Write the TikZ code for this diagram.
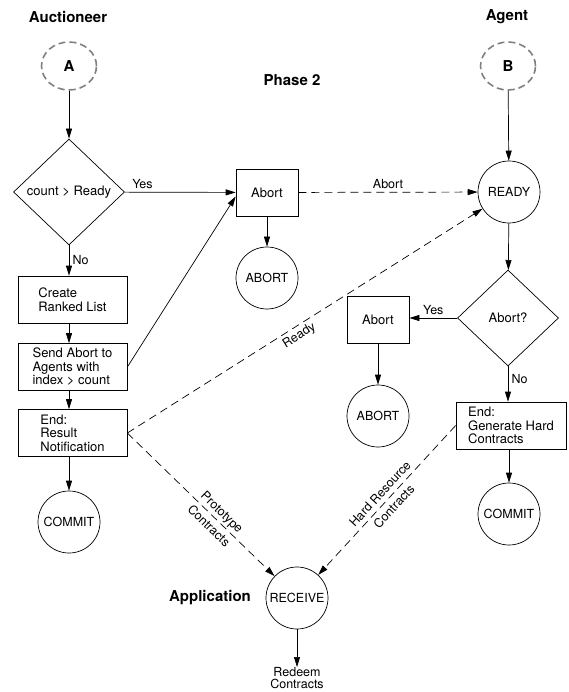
\documentclass[tikz,border=0pt]{standalone}
\usepackage{fontspec}
\setmainfont{TeX Gyre Heros}
\usetikzlibrary{shapes.geometric,arrows.meta}
\begin{document}
\begin{tikzpicture}[x=1pt,y=-1pt,
  font=\fontsize{13}{13.5}\selectfont,
  arr/.style={-{Triangle[length=10pt,width=6pt]}, line width=0.7pt},
  dsh/.style={arr, dash pattern=on 8pt off 5pt},
  box/.style={draw, line width=0.7pt, minimum width=109pt, minimum height=47pt, align=left, inner sep=2pt},
  state/.style={draw, circle, minimum size=62pt, inner sep=0pt, line width=0.7pt, font=\fontsize{12.5}{14}\selectfont},
  conn/.style={draw=gray, ellipse, minimum width=55pt, minimum height=48pt, inner sep=0pt, line width=1.6pt, dash pattern=on 7pt off 4pt, font=\bfseries\fontsize{15}{18}\selectfont},
  dec/.style={draw, diamond, inner sep=0pt, line width=0.7pt},
  title/.style={font=\bfseries\fontsize{15}{18}\selectfont},
  lbl/.style={font=\fontsize{12.5}{13.5}\selectfont},
  lbl2/.style={font=\fontsize{12.5}{19}\selectfont, sloped, align=center, inner sep=0pt}
]
\useasboundingbox (0,0) rectangle (569,692);
% titles
\node[title] (auc) at (68,17) {Auctioneer};
\node[title] (agt) at (507,17) {Agent};
\node[title] (ph) at (292,80) {Phase 2};
\node[title] (app) at (210,598) {Application};
% auctioneer column
\node[conn] (A) at (69,66) {A};
\node[dec, minimum width=111pt, minimum height=106pt] (d1) at (69,192) {count > Ready};
\node[box, minimum width=62pt] (ab1) at (267,192.5) {Abort};
\node[state] (AB1) at (267,278) {ABORT};
\node[box] (crl) at (72.5,299.5) {Create\\Ranked List};
\node[box] (sab) at (72.5,367) {Send Abort to\\Agents with\\index > count};
\node[box] (res) at (72.5,433) {End:\\Result\\Notification};
\node[state] (cm1) at (69,522) {COMMIT};
% agent column
\node[conn] (B) at (508,66) {B};
\node[state] (rdy) at (509,192) {READY};
\node[dec, minimum width=101pt, minimum height=96pt] (d2) at (508,318) {Abort?};
\node[box, minimum width=62pt] (ab2) at (378,320) {Abort};
\node[state] (AB2) at (378,416) {ABORT};
\node[box, minimum width=110pt] (gen) at (511,425.5) {End:\\Generate Hard\\Contracts};
\node[state] (cm2) at (509,514) {COMMIT};
% application
\node[state] (rcv) at (297,598) {RECEIVE};
\node[align=center, anchor=north, inner sep=0pt, font=\fontsize{12.5}{12}\selectfont] (rdm) at (297,667) {Redeem\\Contracts};
% connectors
\draw[arr] (A) -- (d1);
\draw[arr] (d1) -- node[lbl, above, pos=0.16] {Yes} (ab1);
\draw[arr] (d1.south) -- node[lbl, right] {No} (d1.south |- crl.north);
\draw[arr] (ab1) -- (AB1);
\draw[arr] (crl.south -| d1.south) -- (sab.north -| d1.south);
\draw[arr] (sab.south -| d1.south) -- (res.north -| d1.south);
\draw[arr] (res.south -| cm1.north) -- (cm1);
\draw[arr] (sab.east) -- ([yshift=-4pt]ab1.west);
\draw[dsh] (ab1) -- node[lbl, above] {Abort} (rdy);
\draw[arr] (B) -- (rdy);
\draw[arr] (rdy) -- (d2);
\draw[arr] (d2) -- node[lbl, above] {Yes} (d2.west -| ab2.east);
\draw[arr] (d2) -- node[lbl, right, pos=0.35] {No} (d2.south |- gen.north);
\draw[arr] (ab2) -- (AB2);
\draw[arr] (gen.south -| cm2.north) -- (cm2);
\draw[dsh] (res.east) -- node[lbl, below, sloped, pos=0.47] {Ready} (rdy);
\draw[dsh] (res.east) -- node[lbl2, pos=0.6] {Prototype\\Contracts} (rcv);
\draw[dsh] (gen.west) -- node[lbl2, pos=0.5] {Hard Resource\\Contracts} (rcv);
\draw[arr] (rcv) -- (rdm);
\end{tikzpicture}
\end{document}
